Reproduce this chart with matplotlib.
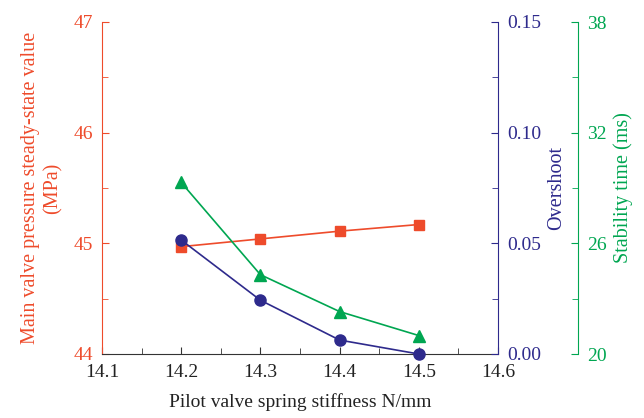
import matplotlib
matplotlib.use("Agg")
import matplotlib.pyplot as plt
from matplotlib.ticker import MultipleLocator, FixedLocator

plt.rcParams['font.family'] = ['Liberation Serif', 'DejaVu Serif']

stiffness = [14.2, 14.3, 14.4, 14.5]
pressure = [44.97, 45.04, 45.11, 45.17]
overshoot = [0.0515, 0.0243, 0.0063, 0.0]
stab_time = [29.3, 24.3, 22.3, 21.0]

RED = '#EE4B2B'
BLUE = '#2E2A8C'
GREEN = '#00A651'

fig = plt.figure(figsize=(6.44, 4.18), dpi=100)
ax = fig.add_axes([102/644, 1-354/418, 396/644, 332/418])
ax2 = ax.twinx()
ax3 = ax.twinx()
ax3.spines['right'].set_position(('axes', (578-102)/396))

ax.plot(stiffness, pressure, color=RED, marker='s', ms=7, lw=1.2, zorder=3)
ax2.plot(stiffness, overshoot, color=BLUE, marker='o', ms=8, lw=1.2, clip_on=False)
ax3.plot(stiffness, stab_time, color=GREEN, marker='^', ms=9, lw=1.2, clip_on=False)

ax.set_xlim(14.1, 14.6)
ax.set_ylim(44, 47)
ax2.set_ylim(0, 0.15)
ax3.set_ylim(20, 38)

ax.xaxis.set_major_locator(MultipleLocator(0.1))
ax.xaxis.set_minor_locator(MultipleLocator(0.05))
ax.yaxis.set_major_locator(MultipleLocator(1))
ax.yaxis.set_minor_locator(MultipleLocator(0.5))
ax2.yaxis.set_major_locator(MultipleLocator(0.05))
ax2.yaxis.set_minor_locator(MultipleLocator(0.025))
ax3.yaxis.set_major_locator(FixedLocator([20, 26, 32, 38]))
ax3.yaxis.set_minor_locator(FixedLocator([23, 29, 35]))
ax.xaxis.set_major_formatter(plt.FuncFormatter(lambda v, p: f"{v:.1f}"))
ax2.yaxis.set_major_formatter(plt.FuncFormatter(lambda v, p: f"{v:.2f}"))
ax3.yaxis.set_major_formatter(plt.FuncFormatter(lambda v, p: f"{v:.0f}"))

for a in (ax, ax2, ax3):
    a.spines['top'].set_visible(False)
ax.spines['right'].set_visible(False)
ax2.spines['left'].set_visible(False)
ax3.spines['left'].set_visible(False)
ax2.spines['bottom'].set_visible(False)
ax3.spines['bottom'].set_visible(False)

ax.spines['left'].set_color(RED)
ax.spines['bottom'].set_color('#333333')
ax2.spines['right'].set_color(BLUE)
ax3.spines['right'].set_color(GREEN)

ax.tick_params(axis='x', which='both', direction='in', colors='#333333', labelcolor='#222222', labelsize=14, pad=7)
ax.tick_params(axis='x', which='major', length=5)
ax.tick_params(axis='x', which='minor', length=4)
ax.tick_params(axis='y', which='both', direction='in', colors=RED, labelsize=14, pad=6.5)
ax.tick_params(axis='y', which='major', length=5)
ax.tick_params(axis='y', which='minor', length=4)
ax2.tick_params(axis='y', which='both', direction='in', colors=BLUE, labelsize=14, pad=7)
ax2.tick_params(axis='y', which='major', length=5)
ax2.tick_params(axis='y', which='minor', length=4)
ax3.tick_params(axis='y', which='both', direction='in', colors=GREEN, labelsize=14, pad=6.5)
ax3.tick_params(axis='y', which='major', length=5)
ax3.tick_params(axis='y', which='minor', length=4)

ax.set_xlabel('Pilot valve spring stiffness N/mm', fontsize=14, color='#222222', labelpad=9)
ax.set_ylabel('Main valve pressure steady-state value\n(MPa)', fontsize=14.5, color=RED, labelpad=8)
ax2.set_ylabel('Overshoot', fontsize=14.5, color=BLUE, labelpad=4)
ax3.set_ylabel('Stability time (ms)', fontsize=14.5, color=GREEN, labelpad=5)

fig.savefig('out.png', dpi=100)
